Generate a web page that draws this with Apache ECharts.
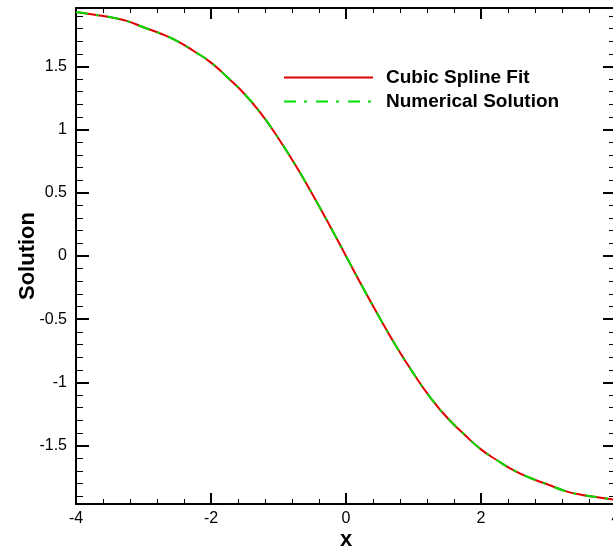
<!DOCTYPE html>
<html>
<head>
<meta charset="utf-8">
<script src="https://cdn.jsdelivr.net/npm/echarts@6/dist/echarts.min.js"></script>
<style>
html,body{margin:0;padding:0;background:#fff;}
#chart{width:613px;height:550px;}
</style>
</head>
<body>
<div id="chart"></div>
<script>
var xValues = [-4, -3.75, -3.5, -3.25, -3, -2.75, -2.5, -2.25, -2, -1.75, -1.5, -1.25, -1, -0.75, -0.5, -0.25, 0,
               0.25, 0.5, 0.75, 1, 1.25, 1.5, 1.75, 2, 2.25, 2.5, 2.75, 3, 3.25, 3.5, 3.75, 4];
var splineFit = [1.93, 1.91, 1.89, 1.86, 1.81, 1.76, 1.70, 1.62, 1.53, 1.41, 1.28, 1.12, 0.93, 0.72, 0.49, 0.25, 0,
                 -0.25, -0.49, -0.72, -0.93, -1.12, -1.28, -1.41, -1.53, -1.62, -1.70, -1.76, -1.81, -1.86, -1.89, -1.91, -1.93];
var numericalSolution = [1.93, 1.91, 1.89, 1.86, 1.81, 1.76, 1.70, 1.62, 1.53, 1.41, 1.28, 1.12, 0.93, 0.72, 0.49, 0.25, 0,
                 -0.25, -0.49, -0.72, -0.93, -1.12, -1.28, -1.41, -1.53, -1.62, -1.70, -1.76, -1.81, -1.86, -1.89, -1.91, -1.93];
var seriesNames = ['Cubic Spline Fit', 'Numerical Solution'];

function pairs(xs, ys) { return xs.map(function (x, i) { return [x, ys[i]]; }); }

var FONT = 'Liberation Sans';
var chart = echarts.init(document.getElementById('chart'), null, {renderer: 'canvas'});

function xAxisCfg(pos, showLabels) {
  return {
    type: 'value', position: pos, min: -4, max: 4, interval: 2,
    name: showLabels ? 'x' : '', nameLocation: 'middle', nameGap: 25, nameMoveOverlap: false,
    nameTextStyle: {fontFamily: FONT, fontWeight: 'bold', fontSize: 22, color: '#000'},
    axisLine: {show: true, onZero: false, lineStyle: {color: '#000', width: 2}},
    axisTick: {show: true, inside: true, length: 11, lineStyle: {color: '#000', width: 2}},
    minorTick: {show: true, splitNumber: 5, length: 5, lineStyle: {color: '#000', width: 1}},
    axisLabel: {show: showLabels, margin: 7, fontFamily: FONT, fontSize: 16, color: '#000'},
    splitLine: {show: false}
  };
}
function yAxisCfg(pos, showLabels) {
  return {
    type: 'value', position: pos, min: -1.962, max: 1.962, minInterval: 0.5, maxInterval: 0.5,
    name: showLabels ? 'Solution' : '', nameLocation: 'middle', nameGap: 37, nameRotate: 90,
    nameMoveOverlap: false,
    nameTextStyle: {fontFamily: FONT, fontWeight: 'bold', fontSize: 22, color: '#000'},
    axisLine: {show: true, onZero: false, lineStyle: {color: '#000', width: 2}},
    axisTick: {show: true, inside: true, length: 13, lineStyle: {color: '#000', width: 2}},
    minorTick: {show: true, splitNumber: 5, length: 7, lineStyle: {color: '#000', width: 1}},
    axisLabel: {show: showLabels, margin: 9, fontFamily: FONT, fontSize: 16, color: '#000',
                showMinLabel: false, showMaxLabel: false},
    splitLine: {show: false}
  };
}

chart.setOption({
  animation: false,
  backgroundColor: '#fff',
  grid: {left: 76, right: -3, top: 8, bottom: 46, containLabel: false, outerBoundsMode: 'none'},
  legend: {
    orient: 'vertical', left: 283, top: 68, padding: 0,
    itemWidth: 89, itemHeight: 14, itemGap: 5,
    itemStyle: {color: 'rgba(0,0,0,0)', borderWidth: 0, opacity: 0},
    textStyle: {fontFamily: FONT, fontWeight: 'bold', fontSize: 19, color: '#000', padding: [0, 0, 0, 8]},
    data: seriesNames
  },
  xAxis: [xAxisCfg('bottom', true), xAxisCfg('top', false)],
  yAxis: [yAxisCfg('left', true), yAxisCfg('right', false)],
  series: [
    {
      name: seriesNames[0], type: 'line', smooth: true, symbol: 'none', showSymbol: false,
      data: pairs(xValues, splineFit),
      lineStyle: {color: '#e00000', width: 2, type: 'solid'},
      itemStyle: {color: '#e00000'}
    },
    {
      name: seriesNames[1], type: 'line', smooth: true, symbol: 'none', showSymbol: false,
      data: pairs(xValues, numericalSolution),
      lineStyle: {color: '#00dd00', width: 2, type: [12, 8, 3, 9]},
      itemStyle: {color: '#00dd00'}
    }
  ]
});
</script>
</body>
</html>
